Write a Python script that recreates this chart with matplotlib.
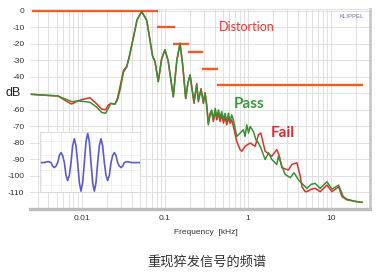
import numpy as np
import matplotlib
matplotlib.use("Agg")
import matplotlib.pyplot as plt

# spectra: frequency [kHz], level [dB]
pass_f = [0.0025, 0.0035, 0.0052, 0.0065, 0.0077, 0.009, 0.0105, 0.0126, 0.015, 0.0175,
          0.0195, 0.021, 0.0225, 0.0252, 0.027, 0.029, 0.032, 0.035, 0.0375, 0.0415,
          0.0465, 0.0528, 0.0607, 0.0665, 0.0717, 0.0764, 0.0837, 0.092, 0.1008, 0.11,
          0.127, 0.14, 0.153, 0.165, 0.179, 0.19, 0.202, 0.2254, 0.243, 0.254,
          0.274, 0.292, 0.306, 0.321, 0.335, 0.352, 0.368, 0.385, 0.405, 0.424,
          0.445, 0.464, 0.486, 0.51, 0.533, 0.558, 0.585, 0.612, 0.64, 0.671,
          0.736, 0.807, 0.885, 0.927, 0.972, 1.02, 1.066, 1.168, 1.25, 1.343,
          1.435, 1.615, 1.78, 1.945, 2.234, 2.338, 2.57, 2.81, 3.24, 3.6,
          4.07, 4.48, 5.14, 5.8, 6.47, 7.43, 8.95, 10.28, 12.36, 14.07,
          15.6, 19.6, 23.6]
pass_db = [-50.5, -51, -51.5, -53.5, -55, -54.5, -54.8, -55.3, -58, -61.5,
           -62, -59, -56, -56.5, -54, -48, -37, -34, -28, -17.5,
           -5.5, -0.3, -5.5, -17.5, -27.5, -30.5, -42.8, -29, -23.6, -30,
           -52, -30, -19.6, -33, -53, -44, -38.8, -55, -44.8, -54,
           -47.9, -55, -50, -57, -69, -62, -60, -66, -59, -64,
           -60, -65, -61, -66, -62, -67, -62, -67, -63, -66,
           -76, -74, -72, -76, -69, -74, -70, -73, -78, -80,
           -83, -90, -86, -90, -93, -88, -94, -99, -101, -98,
           -102.4, -104.5, -107.5, -105, -104.5, -107.5, -103.5, -108, -105.5, -112.5,
           -114, -115.5, -115.9]

fail_f = [0.0025, 0.0035, 0.0052, 0.0065, 0.0076, 0.009, 0.0105, 0.0126, 0.015, 0.0175,
          0.0195, 0.021, 0.0225, 0.0252, 0.027, 0.029, 0.032, 0.035, 0.0375, 0.0415,
          0.0465, 0.0528, 0.0607, 0.0665, 0.0717, 0.0764, 0.0837, 0.092, 0.1008, 0.11,
          0.127, 0.14, 0.153, 0.165, 0.179, 0.19, 0.202, 0.2254, 0.243, 0.254,
          0.274, 0.292, 0.306, 0.321, 0.335, 0.352, 0.368, 0.385, 0.405, 0.424,
          0.445, 0.464, 0.486, 0.51, 0.533, 0.558, 0.585, 0.612, 0.64, 0.671,
          0.736, 0.807, 0.847, 0.927, 1.066, 1.224, 1.343, 1.435, 1.5, 1.615,
          1.945, 2.234, 2.4, 2.57, 3.08, 3.39, 3.89, 4.27, 4.48, 4.9,
          5.14, 5.8, 6.47, 7.43, 8.95, 10.28, 12.36, 13.58, 15.6, 23.6]
fail_db = [-50.5, -51, -51.5, -54.5, -56.4, -54.5, -53.5, -52.6, -56, -59.5,
           -59.8, -57, -56, -56.5, -53, -46, -36, -33.5, -27.5, -17.5,
           -5.5, -0.3, -5.5, -17.5, -27.5, -30.5, -42.8, -29, -23.6, -30,
           -52, -30, -19.6, -33, -53, -44, -38.8, -56, -44, -55,
           -47, -56, -49.5, -58, -68, -63, -61, -67, -61, -66,
           -62, -67, -63, -68, -64, -69, -65, -68, -66, -70,
           -79, -84, -85, -82, -80, -82, -75, -74, -78, -85,
           -88, -84, -88, -95, -96.4, -93, -92, -100, -106.5, -109.5,
           -109.5, -108, -107.5, -109.5, -105.5, -109.5, -106.5, -112.5, -114.5, -116]

# distortion limit steps: start / end frequency [kHz], level [dB]
lim_f0 = [0.00252, 0.081, 0.127, 0.19, 0.28, 0.43]
lim_f1 = [0.083, 0.133, 0.196, 0.289, 0.439, 24.3]
lim_db = [0, -10, -20, -25, -35, -45]

# burst signal in the inset (samples at 1/8 period)
burst = [0, 0, 0, 0, 0, 0, 0.02, 0.03, 0.02, 0, -0.12, -0.17, -0.12, 0, 0.24, 0.34, 0.24, 0,
         -0.43, -0.61, -0.43, 0, 0.57, 0.81, 0.57, 0, -0.68, -0.97, -0.68, 0, 0.71, 1.0,
         0.71, 0, -0.68, -0.97, -0.68, 0, 0.57, 0.81, 0.57, 0, -0.43, -0.61, -0.43, 0,
         0.24, 0.34, 0.24, 0, -0.12, -0.17, -0.12, 0, 0.02, 0.03, 0.02, 0, 0, 0, 0, 0, 0, 0]

W, H = 388, 280
fig = plt.figure(figsize=(W / 100, H / 100), dpi=100)
ax = fig.add_axes([30 / W, 1 - 209 / H, 340 / W, 200 / H])
ax.set_xscale("log")
ax.set_xlim(0.0024, 29.5)
ax.set_ylim(-120, 1.2)

ax.grid(True, which="both", axis="x", color="#dcdcdc", lw=0.6)
ax.grid(True, which="major", axis="y", color="#dcdcdc", lw=0.6)
ax.set_axisbelow(True)

for f0, f1, d in zip(lim_f0, lim_f1, lim_db):
    ax.plot([f0, f1], [d, d], color="#f25a22", lw=1.7, solid_capstyle="butt")
ax.plot(fail_f, fail_db, color="#e3302b", lw=1.1)
ax.plot(pass_f, pass_db, color="#3a8f32", lw=1.1)

yt = list(range(0, -120, -10))
ax.set_yticks(yt)
ax.set_yticklabels(["" if v == -50 else str(v) for v in yt])
ax.set_xticks([0.01, 0.1, 1, 10])
ax.set_xticklabels(["0.01", "0.1", "1", "10"])
ax.tick_params(which="both", length=0, labelsize=6, pad=4, colors="#333333")
ax.minorticks_on()
ax.tick_params(which="minor", length=0)
ax.yaxis.set_minor_locator(matplotlib.ticker.NullLocator())
for lab in ax.get_xticklabels() + ax.get_yticklabels():
    lab.set_family("Liberation Sans")

ax.spines["bottom"].set_color("#bdbdbd")
ax.spines["bottom"].set_linewidth(2.4)
ax.spines["right"].set_color("#c8c8c8")
ax.spines["right"].set_linewidth(2.0)
ax.spines["top"].set_color("#e2e2e2")
ax.spines["top"].set_linewidth(0.8)
ax.spines["left"].set_visible(False)

fig.text(246.5 / W, 1 - 27 / H, "Distortion", color="#ff2d2d", fontsize=9, family="Lato",
         ha="center", va="center")
fig.text(364 / W, 1 - 16 / H, "KLIPPEL", color="#6a78a8",
         fontsize=4.3, ha="right", va="center", family="Liberation Sans")
fig.text(249.5 / W, 1 - 104 / H, "Pass", color="#3a9a3a", fontsize=11, fontweight="bold",
         family="Lato", ha="center", va="center")
fig.text(283 / W, 1 - 133 / H, "Fail", color="#e3262b", fontsize=11, fontweight="bold",
         family="Lato", ha="center", va="center")

fig.text(13 / W, 1 - 93 / H, "dB", fontsize=9, ha="center", va="center",
         family="Liberation Sans", color="#222222")
fig.text(206 / W, 1 - 233 / H, "Frequency  [kHz]", fontsize=6, ha="center", va="center",
         family="Liberation Sans", color="#333333")
fig.text(207 / W, 1 - 262 / H, "重现猝发信号的频谱", fontsize=9.5, ha="center", va="center",
         family=["Noto Sans CJK SC", "DejaVu Sans"], color="#333333")

# inset with the burst waveform
ins = fig.add_axes([40 / W, 1 - 192 / H, 100 / W, 60 / H])
c = int(np.argmax(burst))
ins.plot(range(len(burst)), burst, color="#5a5ad8", lw=1.2)
ins.set_xlim(c - 28.6, c + 31.4)
ins.set_ylim(-1.0, 1.04)
ins.set_xticks(np.arange(c - 28, c + 32, 6))
ins.set_yticks([-0.75, -0.25, 0.25, 0.75])
ins.grid(True, color="#ececec", lw=0.5)
ins.tick_params(length=0, labelbottom=False, labelleft=False)
for s in ins.spines.values():
    s.set_color("#d8d8d8")
    s.set_linewidth(0.6)

fig.savefig("out.png", dpi=100)
